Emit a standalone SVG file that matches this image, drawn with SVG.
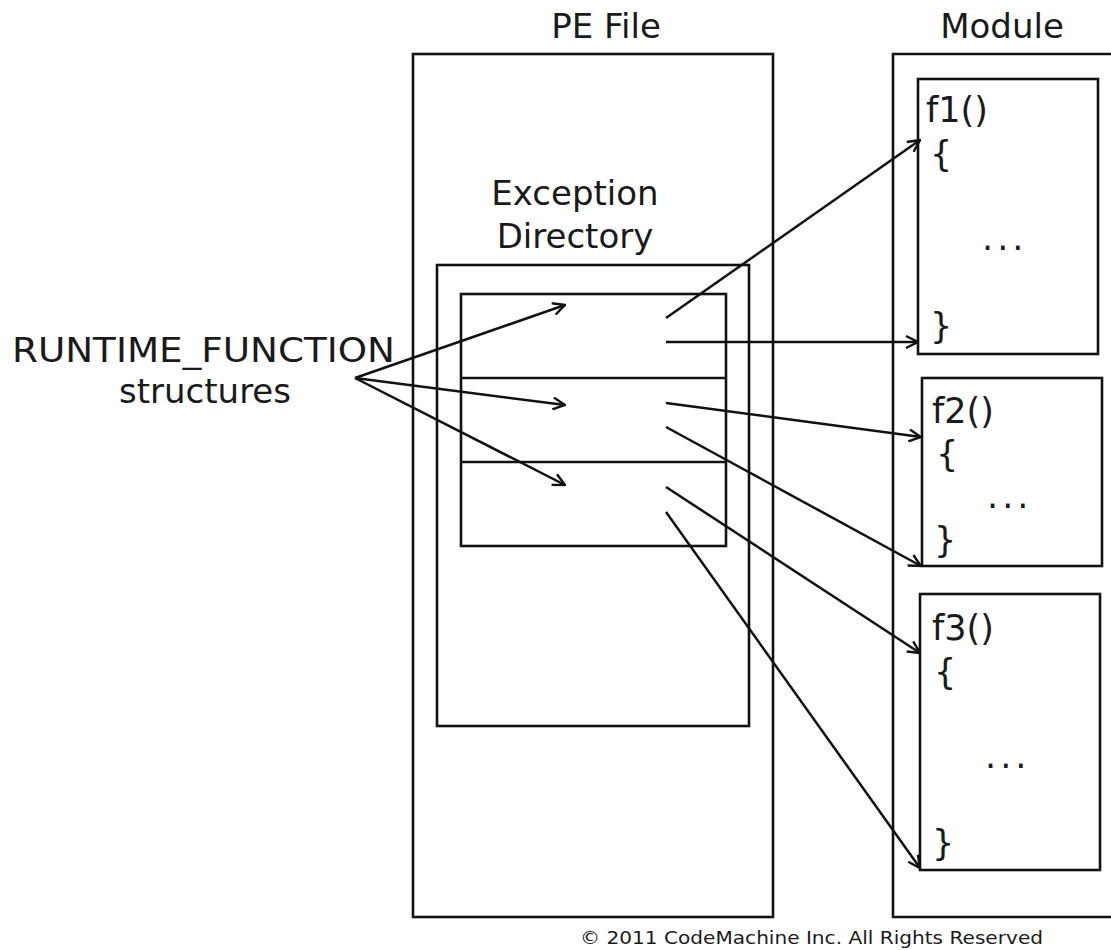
<svg xmlns="http://www.w3.org/2000/svg" width="1111" height="950" viewBox="0 0 1111 950">
  <style>
    .box { fill: none; stroke: #111; stroke-width: 2.6; }
    .lbl { font-family: "DejaVu Sans", Verdana, sans-serif; font-size: 34px; fill: #1a1a1a; }
    .code { font-family: "DejaVu Sans", Verdana, sans-serif; font-size: 35px; fill: #1a1a1a; }
    .dots { letter-spacing: 4px; }
    .small { font-family: "DejaVu Sans", Verdana, sans-serif; font-size: 18px; fill: #1a1a1a; }
    .arrow { fill: none; stroke: #111; stroke-width: 2.5; marker-end: url(#head); }
  </style>
  <defs>
    <marker id="head" viewBox="0 0 14 14" refX="13" refY="7" markerWidth="14" markerHeight="14" markerUnits="userSpaceOnUse" orient="auto">
      <path d="M1,1 L13,7 L1,13" fill="none" stroke="#111" stroke-width="2.4"/>
    </marker>
  </defs>
  <rect width="1111" height="950" fill="#fff"/>

  <!-- PE file with its exception directory -->
  <g id="pe-file">
    <rect class="box" x="413" y="54" width="360" height="863"/>
    <text class="lbl" x="606" y="38" text-anchor="middle">PE File</text>
  </g>
  <g id="exception-directory">
    <rect class="box" x="437" y="265" width="312" height="461"/>
    <text class="lbl" x="575" y="205" text-anchor="middle">Exception</text>
    <text class="lbl" x="575" y="248" text-anchor="middle">Directory</text>
  </g>
  <g id="runtime-function-table">
    <rect class="box" x="461" y="294" width="265" height="252"/>
    <line class="box" x1="461" y1="378" x2="726" y2="378"/>
    <line class="box" x1="461" y1="462" x2="726" y2="462"/>
  </g>
  <g id="runtime-function-label">
    <text class="lbl" x="12" y="362" textLength="383" lengthAdjust="spacingAndGlyphs">RUNTIME_FUNCTION</text>
    <text class="lbl" x="205" y="403" text-anchor="middle">structures</text>
  </g>

  <!-- loaded module with its functions -->
  <g id="module">
    <path class="box" d="M1115,54 L893,54 L893,917 L1115,917"/>
    <text class="lbl" x="1002" y="38" text-anchor="middle">Module</text>
  </g>
  <g id="f1">
    <rect class="box" x="918" y="79" width="180" height="275"/>
    <text class="code" x="926" y="122">f1()</text>
    <text class="code" x="930" y="166">{</text>
    <text class="code dots" x="982" y="250">...</text>
    <text class="code" x="930" y="338">}</text>
  </g>
  <g id="f2">
    <rect class="box" x="922" y="378" width="180" height="188"/>
    <text class="code" x="932" y="423">f2()</text>
    <text class="code" x="936" y="466">{</text>
    <text class="code dots" x="987" y="508">...</text>
    <text class="code" x="934" y="552">}</text>
  </g>
  <g id="f3">
    <rect class="box" x="920" y="594" width="180" height="276"/>
    <text class="code" x="932" y="640">f3()</text>
    <text class="code" x="934" y="684">{</text>
    <text class="code dots" x="985" y="768">...</text>
    <text class="code" x="932" y="855">}</text>
  </g>

  <g id="connectors">
    <line class="arrow" x1="355" y1="378" x2="565" y2="305"/>
    <line class="arrow" x1="355" y1="378" x2="565" y2="405"/>
    <line class="arrow" x1="355" y1="378" x2="565" y2="485"/>
    <line class="arrow" x1="666" y1="318" x2="920" y2="140"/>
    <line class="arrow" x1="666" y1="342" x2="918" y2="342"/>
    <line class="arrow" x1="666" y1="403" x2="921" y2="437"/>
    <line class="arrow" x1="666" y1="427" x2="921" y2="566"/>
    <line class="arrow" x1="666" y1="487" x2="920" y2="653"/>
    <line class="arrow" x1="666" y1="512" x2="920" y2="868"/>
  </g>

  <text class="small" x="580" y="944" textLength="463" lengthAdjust="spacingAndGlyphs">© 2011 CodeMachine Inc. All Rights Reserved</text>
</svg>
